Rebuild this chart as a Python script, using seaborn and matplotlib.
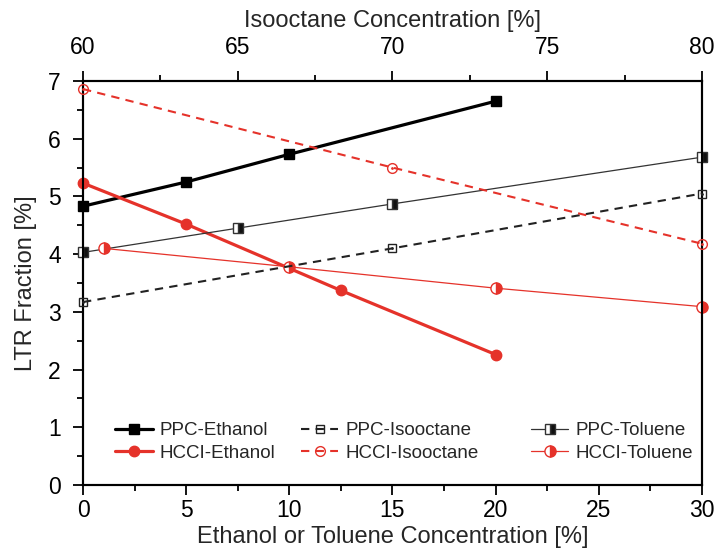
import matplotlib
matplotlib.use("Agg")
import matplotlib.pyplot as plt
import seaborn as sns
import pandas as pd
from matplotlib.ticker import MultipleLocator
from matplotlib.lines import Line2D

sns.set_theme(style="ticks")
plt.rcParams['font.family'] = ['Liberation Sans', 'DejaVu Sans']

RED = '#e5322a'

# Bottom axis (Ethanol / Toluene concentration, %)
ppc_eth_x = [0, 5, 10, 20]
ppc_eth_y = [4.83, 5.25, 5.73, 6.65]
hcci_eth_x = [0, 5, 12.5, 20]
hcci_eth_y = [5.23, 4.52, 3.37, 2.26]
ppc_tol_x = [0, 7.5, 15, 30]
ppc_tol_y = [4.03, 4.45, 4.87, 5.68]
hcci_tol_x = [1, 10, 20, 30]
hcci_tol_y = [4.10, 3.78, 3.41, 3.09]
# Top axis (Isooctane concentration, %)
ppc_iso_x = [60, 70, 80]
ppc_iso_y = [3.17, 4.10, 5.05]
hcci_iso_x = [60, 70, 80]
hcci_iso_y = [6.86, 5.50, 4.18]

fig = plt.figure(figsize=(7.17, 5.52), dpi=100)
ax = fig.add_axes([0.1158, 0.1214, 0.8632, 0.7319])
ax2 = ax.twiny()

def draw(axis, xs, ys, color, lw, ls, marker, ms, fill, mfc, mew):
    df = pd.DataFrame({'x': xs, 'y': ys})
    sns.lineplot(data=df, x='x', y='y', ax=axis, color=color, linewidth=lw,
                 linestyle=ls, marker=marker, markersize=ms, fillstyle=fill,
                 markerfacecolor=mfc, markerfacecoloralt='white',
                 markeredgecolor=color, markeredgewidth=mew,
                 zorder=3, clip_on=False)
    return Line2D([], [], color=color, linewidth=lw, linestyle=ls, marker=marker,
                  markersize=ms, fillstyle=fill, markerfacecolor=mfc,
                  markerfacecoloralt='white', markeredgecolor=color,
                  markeredgewidth=mew)

h1 = draw(ax, ppc_eth_x, ppc_eth_y, 'black', 2.3, '-', 's', 6.5, 'full', 'black', 1)
h2 = draw(ax, hcci_eth_x, hcci_eth_y, RED, 2.3, '-', 'o', 7.5, 'full', RED, 1)
h5 = draw(ax, ppc_tol_x, ppc_tol_y, '#333333', 0.9, '-', 's', 6.5, 'right', '#111111', 1)
h6 = draw(ax, hcci_tol_x, hcci_tol_y, RED, 0.9, '-', 'o', 8, 'right', RED, 1)
h3 = draw(ax2, ppc_iso_x, ppc_iso_y, '#222222', 1.5, (0, (4, 3)), 's', 5.5, 'none', 'white', 1)
h4 = draw(ax2, hcci_iso_x, hcci_iso_y, RED, 1.5, (0, (4, 3)), 'o', 7, 'none', 'white', 1)
# centre dots of the isooctane markers
ax2.plot(ppc_iso_x, ppc_iso_y, linestyle='none', marker='.', markersize=2,
         color='#222222', zorder=4, clip_on=False)
ax2.plot(hcci_iso_x, hcci_iso_y, linestyle='none', marker='.', markersize=2,
         color=RED, zorder=4, clip_on=False)

ax.set_xlim(0, 30)
ax.set_ylim(0, 7)
ax2.set_xlim(60, 80)

ax.xaxis.set_major_locator(MultipleLocator(5))
ax.xaxis.set_minor_locator(MultipleLocator(2.5))
ax.yaxis.set_major_locator(MultipleLocator(1))
ax.yaxis.set_minor_locator(MultipleLocator(0.5))
ax2.xaxis.set_major_locator(MultipleLocator(5))
ax2.xaxis.set_minor_locator(MultipleLocator(2.5))

for a in (ax, ax2):
    for s in a.spines.values():
        s.set_linewidth(1.5)
        s.set_color('black')
    a.tick_params(which='major', direction='out', length=7, width=1.3,
                  labelsize=16.5, colors='black')
    a.tick_params(which='minor', direction='out', length=4, width=1.3,
                  colors='black')
ax.tick_params(axis='y', right=False, pad=9)
ax.tick_params(axis='x', pad=3)
ax2.tick_params(axis='x', pad=9)

ax.set_xlabel('Ethanol or Toluene Concentration [%]', fontsize=17, labelpad=3)
ax.set_ylabel('LTR Fraction [%]', fontsize=17, labelpad=8)
ax2.set_xlabel('Isooctane Concentration [%]', fontsize=17, labelpad=6)
ax2.set_ylabel('')

labels = ['PPC-Ethanol', 'HCCI-Ethanol', 'PPC-Isooctane', 'HCCI-Isooctane',
          'PPC-Toluene', 'HCCI-Toluene']
handles = [h1, h2, h3, h4, h5, h6]
col_x = [115, 301, 531]  # pixel position of each legend column's left edge
for i, cx in enumerate(col_x):
    xa = (cx - 83) / (702 - 83)
    leg = ax.legend(handles[2 * i:2 * i + 2], labels[2 * i:2 * i + 2],
                    frameon=False, loc='upper left',
                    bbox_to_anchor=(xa, (485 - 422) / (485 - 81)),
                    fontsize=13.5, handlelength=2.0, handletextpad=0.35,
                    labelspacing=0.3, borderpad=0, borderaxespad=0)
    if i < 2:
        ax.add_artist(leg)

fig.savefig('out.png', dpi=100)
